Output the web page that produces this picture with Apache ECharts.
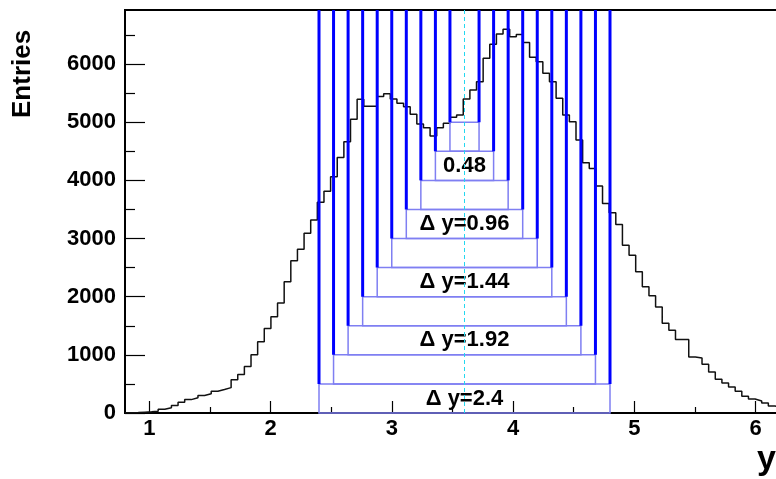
<!DOCTYPE html>
<html>
<head>
<meta charset="utf-8">
<script src="https://cdn.jsdelivr.net/npm/echarts@6/dist/echarts.min.js"></script>
<style>
  html, body { margin: 0; padding: 0; background: #fff; }
  #chart { width: 776px; height: 479px; }
</style>
</head>
<body>
<div id="chart"></div>
<script>
// Rapidity histogram: entries per bin, bins start at BIN_LO with width BIN_W
const BIN_LO = 0.8;
const BIN_W = 0.0547;
const entries = [
  4, 8, 14, 20, 30, 65, 90, 130, 185, 230,
  262, 300, 330, 375, 405, 436, 570, 660, 800, 1000,
  1225, 1452, 1653, 1893, 2255, 2616, 2817, 3090, 3317, 3625,
  3815, 4062, 4392, 4665, 5052, 5395, 5275, 5275, 5442, 5490,
  5400, 5325, 5267, 5136, 4969, 4905, 4762, 4905, 4981, 5084,
  5124, 5399, 5554, 5697, 6099, 6340, 6518, 6599, 6472, 6510,
  6370, 6116, 6042, 5842, 5697, 5411, 5124, 5009, 4694, 4303,
  4206, 3902, 3604, 3442, 3243, 2886, 2714, 2430, 2169, 2015,
  1824, 1545, 1423, 1263, 1263, 964, 947, 838, 706, 580,
  516, 448, 373, 287, 241, 207, 172, 120, 93, 70,
  50, 35, 22
];

// Axis ranges and tick positions
const X_MIN = 0.8, X_MAX = 6.4;
const Y_MIN = 0, Y_MAX = 6930;
const xMajorTicks = [1, 2, 3, 4, 5, 6];
const xMinorTicks = [1.5, 2.5, 3.5, 4.5, 5.5];
const yMajorTicks = [0, 1000, 2000, 3000, 4000, 5000, 6000];
const yMinorTicks = [500, 1500, 2500, 3500, 4500, 5500, 6500];

// Rapidity windows centred on WINDOW_CENTRE
const WINDOW_CENTRE = 3.6;
const windowWidths = [0.24, 0.48, 0.72, 0.96, 1.2, 1.44, 1.68, 1.92, 2.16, 2.4];
const windowLevels = [5000, 4500, 4000, 3500, 3000, 2500, 2000, 1500, 1000, 500];
const windowLabels = ['', '0.48', '', '\u0394 y=0.96', '', '\u0394 y=1.44', '', '\u0394 y=1.92', '', '\u0394 y=2.4'];
const WINDOW_BOX = 500;

const FONT = '"Liberation Sans", Arial, Helvetica, sans-serif';

const histData = entries.map((v, i) => [BIN_LO + i * BIN_W, v]);
histData.push([BIN_LO + entries.length * BIN_W, entries[entries.length - 1]]);

const windowData = windowWidths.map((w, i) => [
  WINDOW_CENTRE - w / 2, WINDOW_CENTRE + w / 2, windowLevels[i], i
]);

const chart = echarts.init(document.getElementById('chart'), null, { renderer: 'canvas' });

const tickLabelStyle = {
  color: '#000', fontFamily: FONT, fontWeight: 'bold', fontSize: 22,
  formatter: function (v) { return String(v); }
};

function xAxisDef(ticks, len, withLabels) {
  return {
    type: 'value', min: X_MIN, max: X_MAX, position: 'bottom',
    axisLine: { show: false },
    splitLine: { show: false },
    axisTick: { show: true, inside: true, length: len, customValues: ticks,
      lineStyle: { color: '#000', width: 1.2 } },
    axisLabel: withLabels
      ? Object.assign({ show: true, margin: 5, customValues: ticks }, tickLabelStyle)
      : { show: false }
  };
}
function yAxisDef(ticks, len, withLabels) {
  return {
    type: 'value', min: Y_MIN, max: Y_MAX, position: 'left',
    axisLine: { show: false },
    splitLine: { show: false },
    axisTick: { show: true, inside: true, length: len, customValues: ticks,
      lineStyle: { color: '#000', width: 1.2 } },
    axisLabel: withLabels
      ? Object.assign({ show: true, margin: 9, customValues: ticks }, tickLabelStyle)
      : { show: false }
  };
}

const option = {
  animation: false,
  backgroundColor: '#fff',
  grid: {
    left: 125, top: 10, width: 679, height: 403,
    show: true, borderColor: '#000', borderWidth: 2, backgroundColor: 'transparent',
    containLabel: false, outerBoundsMode: 'none'
  },
  xAxis: [
    xAxisDef(xMajorTicks, 12, true),
    xAxisDef(xMinorTicks, 6, false)
  ],
  yAxis: [
    yAxisDef(yMajorTicks, 20, true),
    yAxisDef(yMinorTicks, 10, false)
  ],
  graphic: [
    { type: 'text', x: 23, y: 118, rotation: Math.PI / 2,
      style: { text: 'Entries', font: 'bold 26px ' + FONT, fill: '#000',
        align: 'left', verticalAlign: 'middle' } },
    { type: 'text', x: 757, y: 443,
      style: { text: 'y', font: 'bold 34px ' + FONT, fill: '#000',
        align: 'left', verticalAlign: 'top' } }
  ],
  series: [
    {
      type: 'line', xAxisIndex: 0, yAxisIndex: 0,
      data: histData, step: 'end', symbol: 'none',
      lineStyle: { color: '#111', width: 1.5 },
      z: 2
    },
    {
      type: 'custom', xAxisIndex: 0, yAxisIndex: 0,
      data: windowData,
      z: 3,
      renderItem: function (params, api) {
        const lo = api.value(0), hi = api.value(1), lvl = api.value(2), idx = api.value(3);
        const pTL = api.coord([lo, Y_MAX]);
        const pL = api.coord([lo, lvl]);
        const pR = api.coord([hi, lvl]);
        const pB = api.coord([hi, lvl - WINDOW_BOX]);
        const children = [
          { type: 'rect',
            shape: { x: pL[0], y: pL[1], width: pR[0] - pL[0], height: pB[1] - pL[1] },
            style: { fill: null, stroke: '#7f7ff2', lineWidth: 1.5 } },
          { type: 'line', shape: { x1: pL[0], y1: pTL[1], x2: pL[0], y2: pL[1] },
            style: { stroke: '#0000ff', lineWidth: 3 } },
          { type: 'line', shape: { x1: pR[0], y1: pTL[1], x2: pR[0], y2: pR[1] },
            style: { stroke: '#0000ff', lineWidth: 3 } }
        ];
        const label = windowLabels[idx];
        if (label) {
          const c = api.coord([WINDOW_CENTRE, lvl - WINDOW_BOX / 2]);
          children.push({ type: 'text', x: c[0], y: c[1],
            style: { text: label, font: 'bold 22px ' + FONT, fill: '#000',
              align: 'center', verticalAlign: 'middle' } });
        }
        return { type: 'group', children: children };
      }
    },
    {
      type: 'line', xAxisIndex: 0, yAxisIndex: 0,
      data: [[WINDOW_CENTRE, Y_MIN], [WINDOW_CENTRE, Y_MAX]],
      symbol: 'none',
      lineStyle: { color: '#22d8f0', width: 1, type: [4, 3] },
      z: 4
    }
  ]
};

chart.setOption(option);
</script>
</body>
</html>
